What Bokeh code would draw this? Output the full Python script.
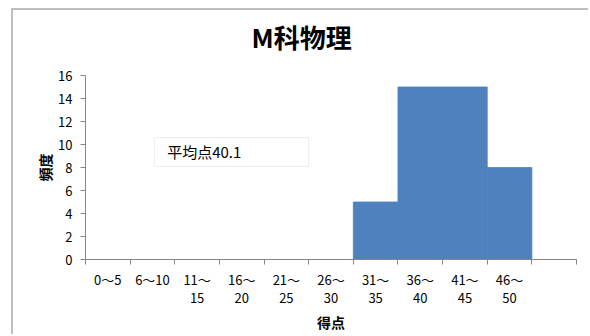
from bokeh.plotting import figure
from bokeh.models import Range1d, FixedTicker, BoxAnnotation, Label, Title
from bokeh.embed import file_html
from bokeh.resources import INLINE
import numpy as np

# Score bins (the last slot is an empty spacer) and number of students per bin
bins = ["0～5", "6～10", "11～\n15", "16～\n20", "21～\n25", "26～\n30",
        "31～\n35", "36～\n40", "41～\n45", "46～\n50", ""]
counts = [0, 0, 0, 0, 0, 0, 5, 15, 15, 8, 0]
y_ticks = [0, 2, 4, 6, 8, 10, 12, 14, 16]
mean_score = 40.1

JP = "Noto Sans CJK JP"
GRID = "#868686"
BAR = "#4f81bd"

edges = np.arange(len(bins) + 1)
centers = edges[:-1] + 0.5

p = figure(width=577, height=326, output_backend="svg", toolbar_location=None,
           x_range=Range1d(0, len(bins)), y_range=Range1d(0, max(y_ticks)),
           min_border_left=72, min_border_right=14, min_border_top=65,
           min_border_bottom=77)
# chart-area border (left and top edges are visible in the window)
p.margin = (8, 0, 0, 11)
p.styles = {"border-left": "2px solid #bfbfbf", "border-top": "2px solid #bfbfbf"}
p.outline_line_color = None
p.xgrid.visible = False
p.ygrid.visible = False
p.background_fill_color = "white"
p.border_fill_color = "white"

p.quad(left=edges[:-1], right=edges[1:], bottom=0, top=counts,
       fill_color=BAR, line_color=BAR, line_width=0.8)

# x axis: labels centred in each bin, tick marks on the bin edges
xa = p.xaxis[0]
xa.ticker = FixedTicker(ticks=list(centers), minor_ticks=list(edges))
xa.major_label_overrides = {float(c): b for c, b in zip(centers, bins)}
xa.major_tick_line_color = None
xa.major_tick_out = 0
xa.major_tick_in = 0
xa.minor_tick_line_color = GRID
xa.minor_tick_out = 5
xa.minor_tick_in = 0
xa.axis_line_color = GRID
xa.major_label_standoff = 5
xa.major_label_text_font = JP
xa.major_label_text_font_size = "13px"
xa.major_label_text_line_height = 0.95
xa.major_label_text_color = "black"
xa.axis_label = "得点"
xa.axis_label_text_font = JP
xa.axis_label_text_font_size = "14px"
xa.axis_label_text_font_style = "bold"
xa.axis_label_text_color = "black"
xa.axis_label_standoff = 2

ya = p.yaxis[0]
ya.ticker = FixedTicker(ticks=y_ticks, minor_ticks=[])
ya.major_tick_line_color = GRID
ya.major_tick_out = 5
ya.major_tick_in = 0
ya.minor_tick_line_color = None
ya.axis_line_color = GRID
ya.major_label_standoff = 8
ya.major_label_text_font = JP
ya.major_label_text_font_size = "13px"
ya.major_label_text_color = "black"
ya.axis_label = "頻度"
ya.axis_label_text_font = JP
ya.axis_label_text_font_size = "14px"
ya.axis_label_text_font_style = "bold"
ya.axis_label_text_color = "black"
ya.axis_label_standoff = 0

# mean score box
p.add_layout(BoxAnnotation(left=1.55, right=5.0, bottom=8.1, top=10.6,
                           fill_color="white", fill_alpha=1,
                           line_color="#bfbfbf", line_width=1, level="overlay"))
p.add_layout(Label(x=1.83, y=9.35, text=f"平均点{mean_score}",
                   text_font=JP, text_font_size="15px", text_color="black",
                   text_baseline="middle", level="overlay"))

# gap between the plot frame and the title
p.add_layout(Title(text=" ", text_font_size="1px", standoff=18), "above")
p.add_layout(Title(text="M科物理", text_font=JP, text_font_size="26px",
                   text_font_style="bold", text_color="black",
                   align="left", offset=166, standoff=0), "above")

open("out.html", "w").write(file_html(p, INLINE))
